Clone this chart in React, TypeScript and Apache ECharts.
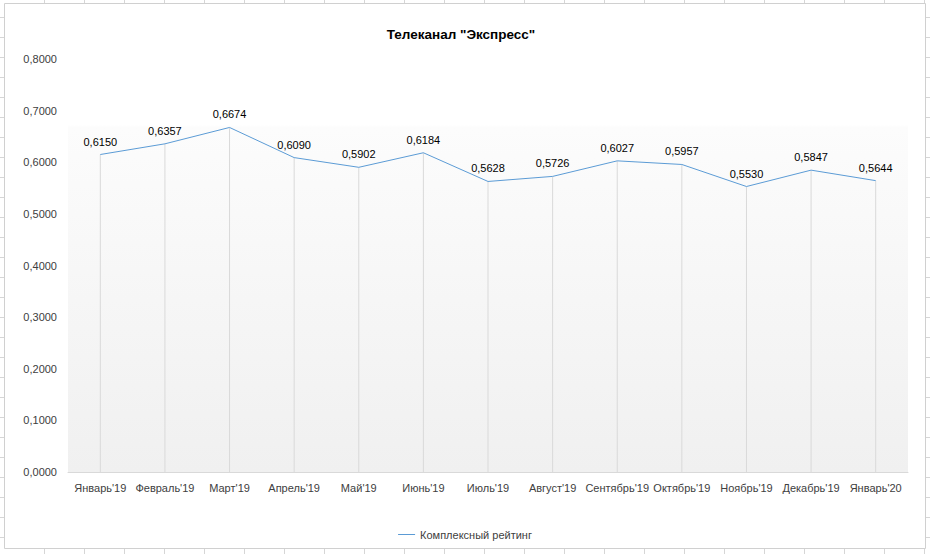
import React, { useEffect, useRef } from "react";
import * as echarts from "echarts";

const categories = [
  "Январь'19", "Февраль'19", "Март'19", "Апрель'19", "Май'19", "Июнь'19",
  "Июль'19", "Август'19", "Сентябрь'19", "Октябрь'19", "Ноябрь'19", "Декабрь'19", "Январь'20",
];
const ratingValues = [0.615, 0.6357, 0.6674, 0.609, 0.5902, 0.6184, 0.5628, 0.5726, 0.6027, 0.5957, 0.553, 0.5847, 0.5644];
const seriesName = "Комплексный рейтинг";
const titleText = 'Телеканал "Экспресс"';
const yMin = 0;
const yMax = 0.8;
const yStep = 0.1;

const FONT = "'Liberation Sans', Arial, sans-serif";
const LINE_COLOR = "#5b9bd5";
const fmt = (v: number) => v.toFixed(4).replace(".", ",");

export default function App() {
  const ref = useRef<HTMLDivElement>(null);
  useEffect(() => {
    if (!ref.current) return;
    const chart = echarts.init(ref.current, null, { renderer: "svg" });

    // spreadsheet decoration around the chart object
    const deco: any[] = [];
    const gridColor = "#d6d6d6";
    for (let x = 44; x < 930; x += 40) {
      deco.push({ type: "line", shape: { x1: x + 0.5, y1: 0, x2: x + 0.5, y2: 3 }, style: { stroke: gridColor, lineWidth: 1 } });
      deco.push({ type: "line", shape: { x1: x + 0.5, y1: 549, x2: x + 0.5, y2: 554 }, style: { stroke: gridColor, lineWidth: 1 } });
    }
    for (let y = 17; y < 554; y += 20) {
      deco.push({ type: "line", shape: { x1: 0, y1: y + 0.5, x2: 4, y2: y + 0.5 }, style: { stroke: gridColor, lineWidth: 1 } });
      deco.push({ type: "line", shape: { x1: 926, y1: y + 0.5, x2: 930, y2: y + 0.5 }, style: { stroke: gridColor, lineWidth: 1 } });
    }
    deco.push({
      type: "rect",
      shape: { x: 4.5, y: 3.5, width: 921, height: 545 },
      style: { fill: "none", stroke: "#d0d0d0", lineWidth: 1 },
      z: 10,
    });

    chart.setOption({
      animation: false,
      backgroundColor: "#ffffff",
      textStyle: { fontFamily: FONT },
      title: {
        text: titleText,
        left: 456,
        textAlign: "center",
        top: 22,
        textStyle: { fontFamily: FONT, fontSize: 13.5, fontWeight: "bold", color: "#000000" },
      },
      legend: {
        data: [{ name: seriesName, icon: "rect", itemStyle: { color: LINE_COLOR, opacity: 1 } }],
        left: "center",
        top: 524,
        itemWidth: 17,
        itemHeight: 1,
        itemGap: 2,
        textStyle: { fontFamily: FONT, fontSize: 11, color: "#404040" },
      },
      grid: {
        left: 68,
        right: 22,
        top: 59,
        bottom: 82,
        show: true,
        borderWidth: 0,
        backgroundColor: new echarts.graphic.LinearGradient(0, 0, 0, 1, [
          { offset: 0, color: "#ffffff" },
          { offset: 0.16, color: "#ffffff" },
          { offset: 0.165, color: "#fcfcfc" },
          { offset: 1, color: "#f0f0f0" },
        ]),
      },
      xAxis: {
        type: "category",
        data: categories,
        boundaryGap: true,
        axisLine: { lineStyle: { color: "#d9d9d9", width: 1 } },
        axisTick: { show: false },
        axisLabel: { fontFamily: FONT, fontSize: 11, color: "#404040", margin: 10, interval: 0 },
      },
      yAxis: {
        type: "value",
        min: yMin,
        max: yMax,
        interval: yStep,
        axisLine: { show: false },
        axisTick: { show: false },
        splitLine: { show: false },
        axisLabel: { fontFamily: FONT, fontSize: 11, color: "#404040", margin: 11, formatter: (v: number) => fmt(v) },
      },
      series: [
        {
          name: "drop",
          type: "bar",
          data: ratingValues,
          barWidth: 1,
          itemStyle: { color: "#d9d9d9" },
          silent: true,
          z: 1,
        },
        {
          name: seriesName,
          type: "line",
          data: ratingValues,
          symbol: "circle",
          symbolSize: 1,
          showSymbol: true,
          lineStyle: { color: LINE_COLOR, width: 1 },
          itemStyle: { color: LINE_COLOR, opacity: 0 },
          z: 3,
          label: {
            show: true,
            position: "top",
            distance: 7,
            fontFamily: FONT,
            fontSize: 11,
            color: "#000000",
            opacity: 1,
            formatter: (p: any) => fmt(p.value),
          },
        },
      ],
      graphic: deco,
    });
    return () => chart.dispose();
  }, []);
  return <div ref={ref} style={{ position: "fixed", left: 0, top: 0, width: 930, height: 554 }} />;
}
